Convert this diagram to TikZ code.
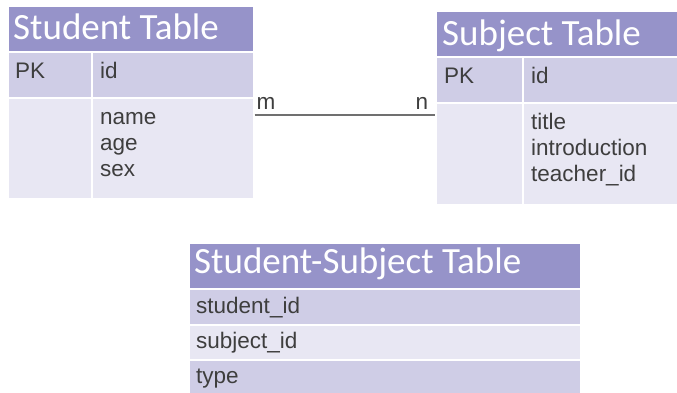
\documentclass[tikz,border=0pt]{standalone}
\usepackage{fontspec}
\setmainfont{Liberation Sans}
\newfontfamily\headfont{Carlito}
\definecolor{hdr}{RGB}{150,147,201}
\definecolor{rowdark}{RGB}{207,205,230}
\definecolor{rowlight}{RGB}{232,231,243}
\definecolor{txt}{RGB}{62,62,62}
\definecolor{linkgray}{RGB}{112,112,112}
\begin{document}
\begin{tikzpicture}[x=1pt,y=-1pt,
  cell/.style={rectangle, draw=white, line width=1.6pt, inner sep=0pt, anchor=north west},
  headcell/.style={cell, fill=hdr},
  darkcell/.style={cell, fill=rowdark},
  lightcell/.style={cell, fill=rowlight},
  htext/.style={anchor=base west, inner sep=0pt, text=white,
    font=\headfont\fontsize{37}{37}\selectfont},
  btext/.style={anchor=base west, inner sep=0pt, text=txt,
    font=\fontsize{22.5}{25}\selectfont},
  mult/.style={anchor=base, inner sep=0pt, text=txt,
    font=\fontsize{22.5}{25}\selectfont},
  rel/.style={draw=linkgray, line width=2pt}
]
\useasboundingbox (0,0) rectangle (677,392);

% Student table
\node[headcell, minimum width=246pt, minimum height=46pt] (sthead) at (7,5) {};
\node[darkcell, minimum width=84pt, minimum height=46pt] (stpk) at (7,51) {};
\node[darkcell, minimum width=162pt, minimum height=46pt] (stid) at (91,51) {};
\node[lightcell, minimum width=84pt, minimum height=101pt] (stkey) at (7,97) {};
\node[lightcell, minimum width=162pt, minimum height=101pt] (stattr) at (91,97) {};
\node[htext] (sttitle) at (13,39) {Student Table};
\node[btext] (stpktext) at (15,78) {PK};
\node[btext] (stidtext) at (100,78) {id};
\node[btext] (stname) at (100,124) {name};
\node[btext] (stage) at (100,150) {age};
\node[btext] (stsex) at (100,176) {sex};

% Subject table
\node[headcell, minimum width=244pt, minimum height=46pt] (sjhead) at (435,10) {};
\node[darkcell, minimum width=87pt, minimum height=46pt] (sjpk) at (435,56) {};
\node[darkcell, minimum width=157pt, minimum height=46pt] (sjid) at (522,56) {};
\node[lightcell, minimum width=87pt, minimum height=102pt] (sjkey) at (435,102) {};
\node[lightcell, minimum width=157pt, minimum height=102pt] (sjattr) at (522,102) {};
\node[htext] (sjtitle) at (442,45) {Subject Table};
\node[btext] (sjpktext) at (444,83) {PK};
\node[btext] (sjidtext) at (531,83) {id};
\node[btext] (sjtitlefield) at (531,129) {title};
\node[btext] (sjintro) at (531,155) {introduction};
\node[btext] (sjteacher) at (531,181) {teacher\_id};

% Student-Subject table
\node[headcell, minimum width=392pt, minimum height=46pt] (sshead) at (188,242) {};
\node[darkcell, minimum width=392pt, minimum height=36pt] (ssrow1) at (188,288) {};
\node[lightcell, minimum width=392pt, minimum height=35pt] (ssrow2) at (188,324) {};
\node[darkcell, minimum width=392pt, minimum height=40pt] (ssrow3) at (188,359) {};
\node[htext] (sstitle) at (194,273) {Student-Subject Table};
\node[btext] (ssstudent) at (196,313) {student\_id};
\node[btext] (sssubject) at (196,348) {subject\_id};
\node[btext] (sstype) at (196,383) {type};

% Many-to-many relation
\path (stattr.north east) ++(0,18) coordinate (relA);
\coordinate (relB) at (relA -| sjkey.west);
\draw[rel] (relA) -- (relB);
\node[mult] (mlabel) at (266,109) {m};
\node[mult] (nlabel) at (422,109) {n};
\end{tikzpicture}
\end{document}
